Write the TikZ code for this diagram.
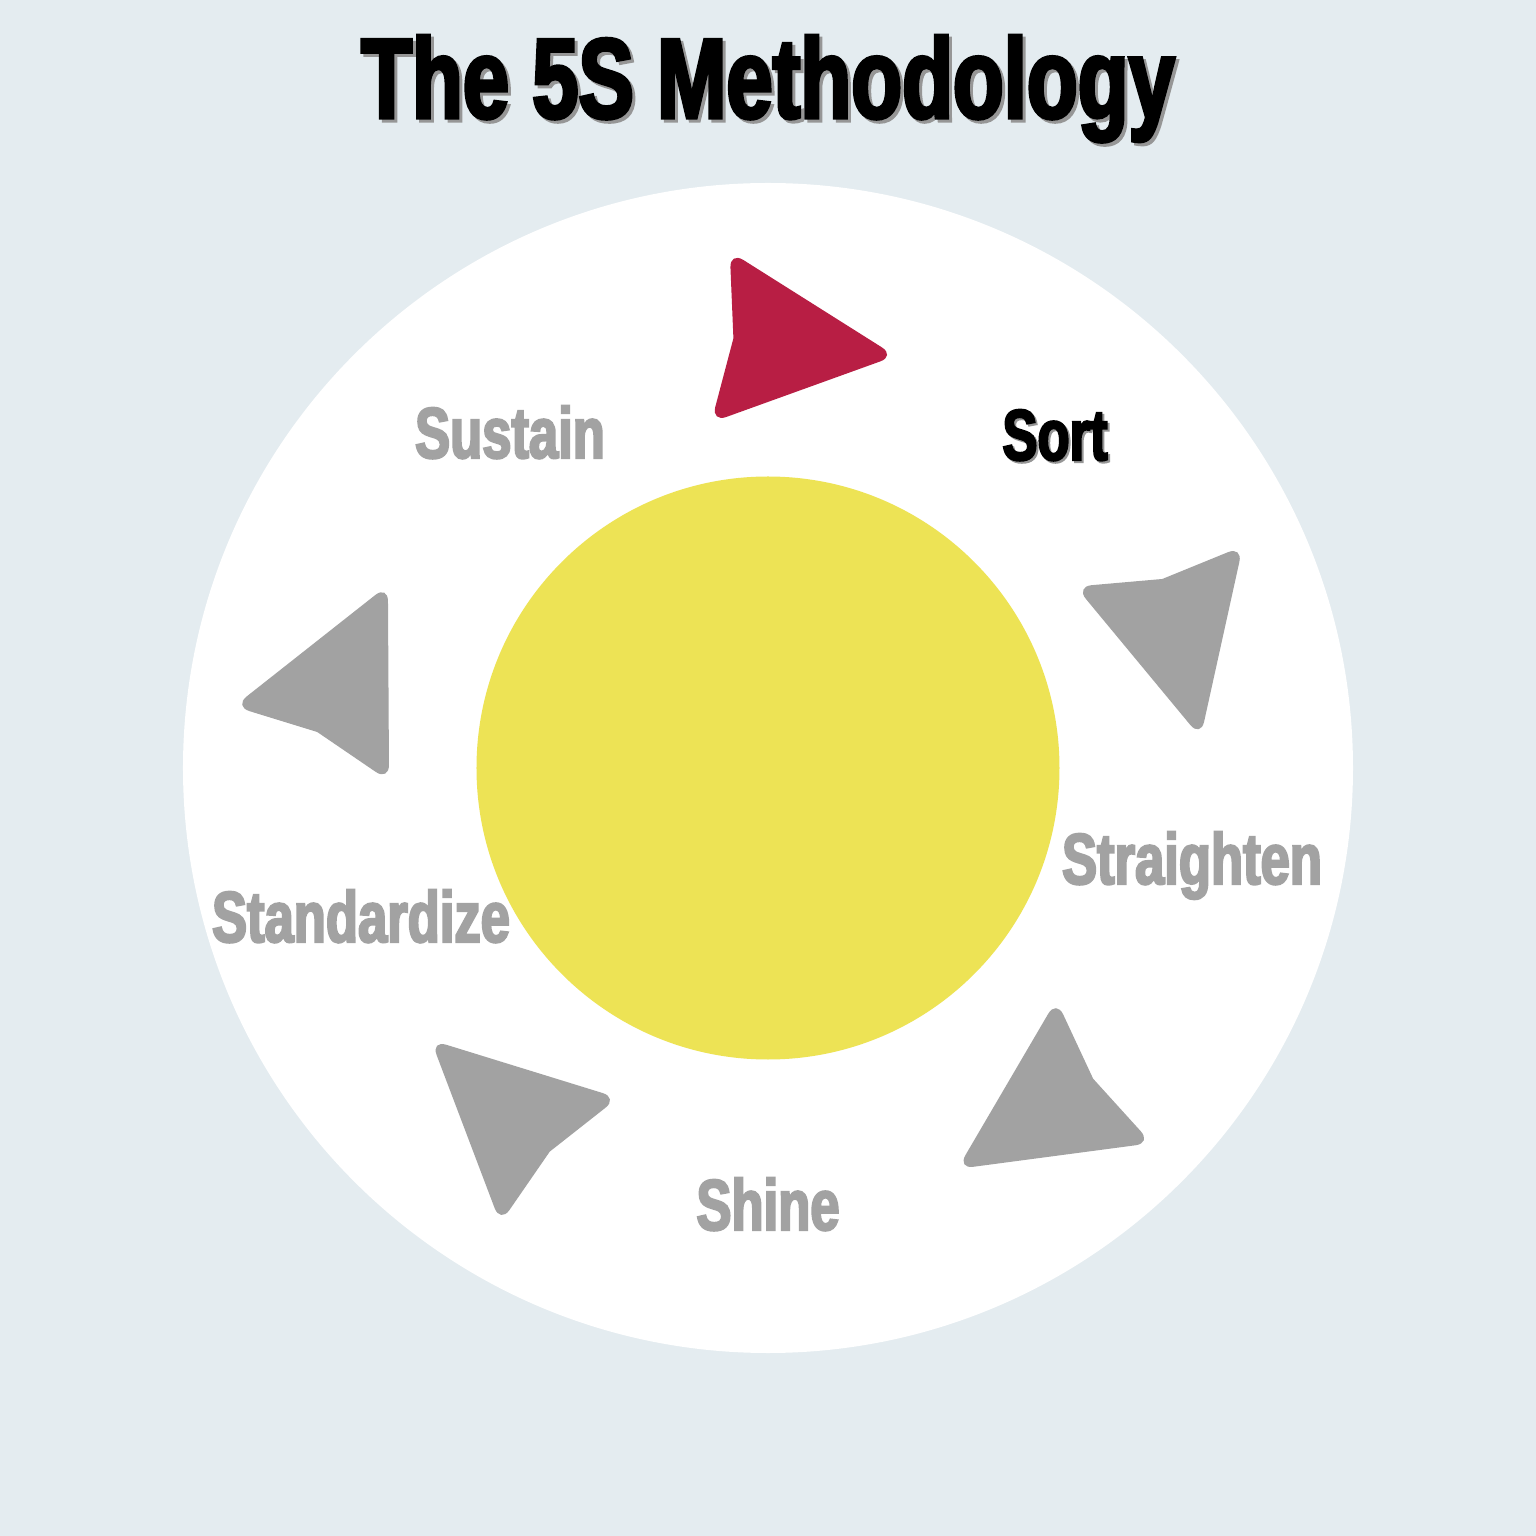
\documentclass[tikz,border=0pt]{standalone}
\usepackage{fontspec}
\newfontfamily\heavyfont{Liberation Sans Bold}[FakeStretch=0.73,FakeBold=3]
\definecolor{paper}{RGB}{228,236,240}
\definecolor{hubyellow}{RGB}{237,227,85}
\definecolor{activered}{RGB}{184,30,68}
\definecolor{idlegray}{RGB}{162,162,162}
\definecolor{shadowgray}{RGB}{150,150,150}
\tikzset{
  stagetext/.style={inner sep=0pt, anchor=base, font=\heavyfont\fontsize{36}{40}\selectfont},
  pointer/.style={fill=#1, rounded corners=8pt},
}
\begin{document}
\begin{tikzpicture}[x=0.5pt, y=0.5pt]
\useasboundingbox (-768,-768) rectangle (768,768);
\fill[paper] (-768,-768) rectangle (768,768);
\node[circle, fill=white, inner sep=0pt, minimum size=585pt] (ring) at (0,0) {};
\node[circle, fill=hubyellow, inner sep=0pt, minimum size=291.5pt] (hub) at (0,0) {};
% title
\node[inner sep=0pt, anchor=base, text=shadowgray, font=\heavyfont\fontsize{57}{60}\selectfont] (title-shadow) at (3,647) {The 5S Methodology};
\node[inner sep=0pt, anchor=base, font=\heavyfont\fontsize{57}{60}\selectfont] (title) at (0,650) {The 5S Methodology};
% the five steps
\node[stagetext, text=shadowgray] (sort-shadow) at (289,306) {Sort};
\node[stagetext] (sort) at (287,308) {Sort};
\node[stagetext, text=idlegray] (straighten) at (424,-116) {Straighten};
\node[stagetext, text=idlegray] (shine) at (0,-462) {Shine};
\node[stagetext, text=idlegray] (standardize) at (-407,-174) {Standardize};
\node[stagetext, text=idlegray] (sustain) at (-258,310) {Sustain};
% arrows between the steps
\foreach \px/\py/\dir/\col in {36/422/-6.2/activered, 411/120/-76.4/idlegray,
    266/-350/-146.4/idlegray, -270/-335/136.8/idlegray, -420/100/64.3/idlegray}
  \fill[pointer=\col, shift={(\px,\py)}, rotate=\dir]
    (-71,0) -- (-84,86) -- (92,0) -- (-84,-86) [sharp corners] -- cycle;
\end{tikzpicture}
\end{document}
